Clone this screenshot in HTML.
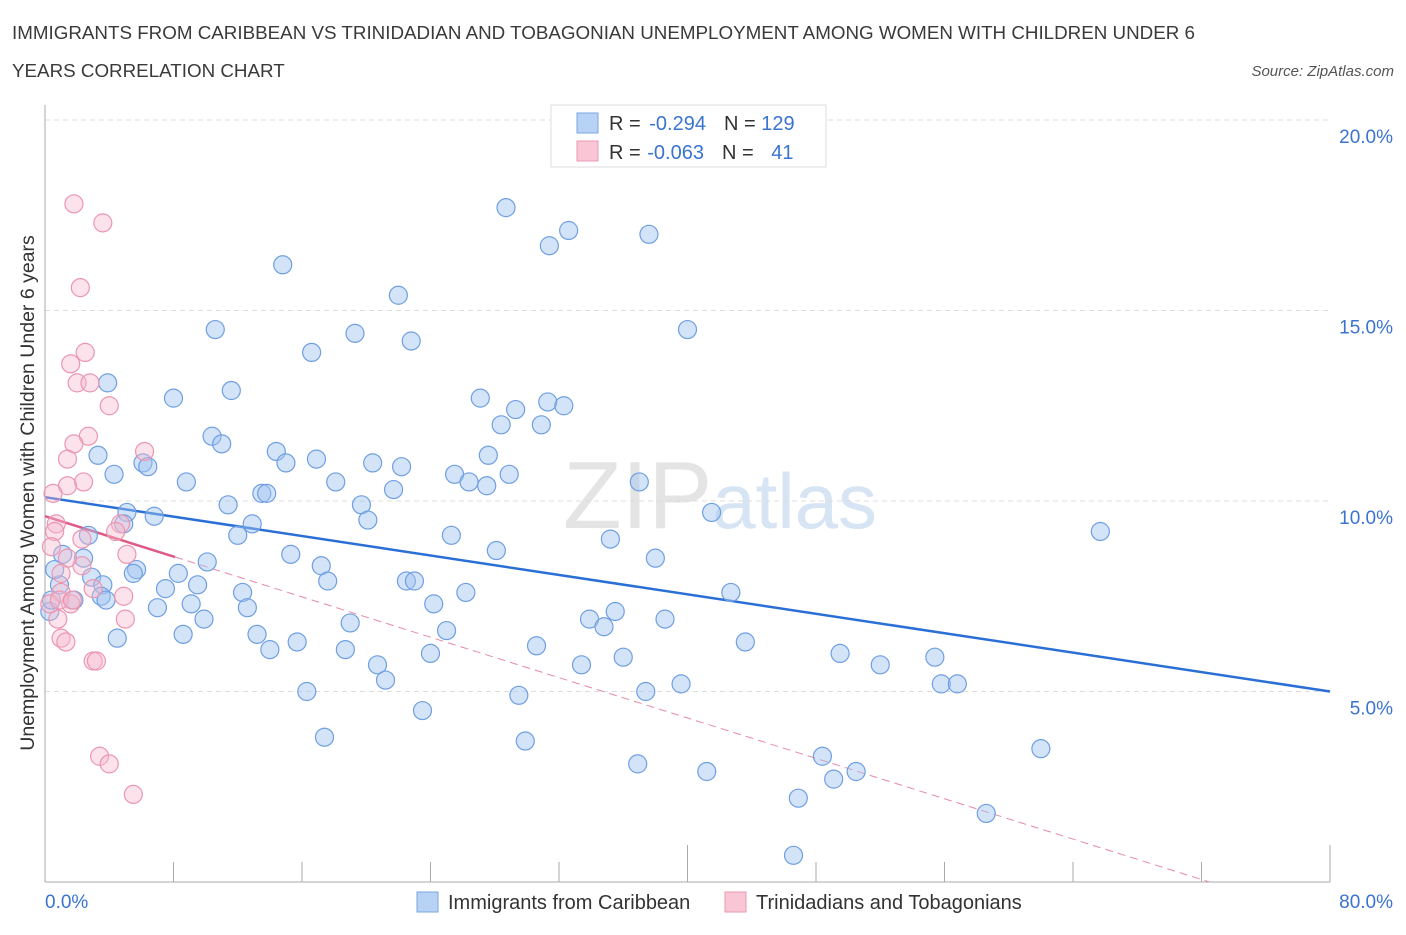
<!DOCTYPE html>
<html><head><meta charset="utf-8"><style>
body{margin:0;background:#fff;font-family:"Liberation Sans",sans-serif;}
svg text{font-family:"Liberation Sans",sans-serif;}
</style></head><body>
<svg id="chart" width="1406" height="930" xmlns="http://www.w3.org/2000/svg">
<text x="12" y="39" font-size="18.8" fill="#3a3a3a">IMMIGRANTS FROM CARIBBEAN VS TRINIDADIAN AND TOBAGONIAN UNEMPLOYMENT AMONG WOMEN WITH CHILDREN UNDER 6</text>
<text x="12" y="77" font-size="18.8" fill="#3a3a3a">YEARS CORRELATION CHART</text>
<text x="1394" y="76" font-size="15" font-style="italic" fill="#555" text-anchor="end">Source: ZipAtlas.com</text>
<text x="720" y="528" font-size="96" font-family="Liberation Serif" fill="#e4e4e4" text-anchor="middle">ZIP<tspan fill="#d6e4f4" font-family="Liberation Sans" font-size="78">atlas</tspan></text>
<g id="grid"></g>
<g id="axes"></g>
<g id="lines"></g>
<g id="points"></g>
<text transform="translate(34,493) rotate(-90)" font-size="19.5" fill="#333" text-anchor="middle">Unemployment Among Women with Children Under 6 years</text>
<g>
<rect x="551" y="105" width="275" height="62" fill="#fff" stroke="#ddd"/>
<rect x="577" y="113" width="21" height="20" fill="#b8d2f5" stroke="#7aa5e3"/>
<rect x="577" y="141" width="21" height="20" fill="#f9c6d6" stroke="#e99ab2"/>
<text x="609" y="130" font-size="20" fill="#333">R = <tspan fill="#3a74d0" dx="3">-0.294</tspan><tspan fill="#333" dx="18">N = </tspan><tspan fill="#3a74d0">129</tspan></text>
<text x="609" y="159" font-size="20" fill="#333">R = <tspan fill="#3a74d0" dx="1">-0.063</tspan><tspan fill="#333" dx="18">N = </tspan><tspan fill="#3a74d0" dx="12">41</tspan></text>
</g>
<g>
<rect x="417" y="892" width="21" height="20" fill="#b8d2f5" stroke="#7aa5e3"/>
<text x="448" y="909" font-size="20" fill="#333">Immigrants from Caribbean</text>
<rect x="725" y="892" width="21" height="20" fill="#f9c6d6" stroke="#e99ab2"/>
<text x="756" y="909" font-size="20" fill="#333">Trinidadians and Tobagonians</text>
</g>
</svg>
<script>
const yTicks=[5,10,15,20];
const yTickLabels=["5.0%","10.0%","15.0%","20.0%"];
const xTicks=[0,8,16,24,32,40,48,56,64,72,80];
const blueX=[28.7,32.6,31.4,37.6,14.8,22.0,40.0,10.6,19.3,22.8,16.6,3.9,11.6,8.0,27.1,31.3,32.3,29.3,28.4,30.9,10.4,11.0,3.3,14.4,16.9,27.6,6.1,6.4,15.0,20.4,22.2,4.3,25.5,28.9,8.8,18.1,26.4,27.5,37.0,13.5,13.8,21.7,11.4,19.7,5.1,6.8,41.5,4.9,20.1,12.9,65.7,12.0,25.3,2.7,35.2,28.1,1.1,2.4,15.3,38.0,10.1,17.2,5.7,5.5,8.3,2.9,17.6,22.5,23.0,0.9,3.6,9.5,7.5,12.3,26.2,42.7,3.5,1.8,3.8,9.1,24.2,7.0,12.6,35.5,33.9,38.6,9.9,19.0,34.8,8.6,25.0,13.2,4.5,43.6,15.7,30.6,14.0,18.7,24.0,49.5,36.0,55.4,20.7,33.4,52.0,21.2,55.8,56.8,39.6,37.4,16.3,29.5,23.5,17.4,29.9,62.0,48.4,36.9,41.2,50.5,49.1,46.9,58.6,46.6,0.3,0.4,0.6];
const blueY=[17.7,17.1,16.7,17.0,16.2,15.4,14.5,14.5,14.4,14.2,13.9,13.1,12.9,12.7,12.7,12.6,12.5,12.4,12.0,12.0,11.7,11.5,11.2,11.3,11.1,11.2,11.0,10.9,11.0,11.0,10.9,10.7,10.7,10.7,10.5,10.5,10.5,10.4,10.5,10.2,10.2,10.3,9.9,9.9,9.7,9.6,9.7,9.4,9.5,9.4,9.2,9.1,9.1,9.1,9.0,8.7,8.6,8.5,8.6,8.5,8.4,8.3,8.2,8.1,8.1,8.0,7.9,7.9,7.9,7.8,7.8,7.8,7.7,7.6,7.6,7.6,7.5,7.4,7.4,7.3,7.3,7.2,7.2,7.1,6.9,6.9,6.9,6.8,6.7,6.5,6.6,6.5,6.4,6.3,6.3,6.2,6.1,6.1,6.0,6.0,5.9,5.9,5.7,5.7,5.7,5.3,5.2,5.2,5.2,5.0,5.0,4.9,4.5,3.8,3.7,3.5,3.3,3.1,2.9,2.9,2.7,2.2,1.8,0.7,7.1,7.4,8.2];
const pinkX=[1.8,3.6,2.2,2.5,1.6,2.0,2.8,4.0,2.7,1.8,6.2,1.4,2.4,1.4,0.5,0.7,0.6,4.7,4.4,2.3,0.4,5.1,2.3,1.4,1.0,4.9,3.0,1.6,0.8,5.0,1.0,1.3,3.0,3.2,3.4,4.0,5.5,0.3,0.9,1.7,1.0];
const pinkY=[17.8,17.3,15.6,13.9,13.6,13.1,13.1,12.5,11.7,11.5,11.3,11.1,10.5,10.4,10.2,9.4,9.2,9.4,9.2,9.0,8.8,8.6,8.3,8.5,7.6,7.5,7.7,7.3,6.9,6.9,6.4,6.3,5.8,5.8,3.3,3.1,2.3,7.3,7.4,7.4,8.1];
const blueTrend=[[0,10.1],[80,5.0]];
const pinkSolid=[[0,9.6],[8.1,8.53]];
const pinkDash=[[8.1,8.53],[72.5,0]];

const NS="http://www.w3.org/2000/svg";
const X=v=>45+v/80*1285;
const Y=v=>882-v/5*190.5;
function mk(tag,attrs,parent){const e=document.createElementNS(NS,tag);for(const k in attrs)e.setAttribute(k,attrs[k]);document.getElementById(parent).appendChild(e);return e;}
yTicks.forEach((t,i)=>{
  const g=mk('line',{x1:45,x2:1330,y1:Y(t),y2:Y(t),stroke:'#ddd','stroke-dasharray':'5,4'},'grid');
  
  
  const l=mk('text',{x:1393,y:Y(t)+23,'font-size':19,fill:'#3a74d0','text-anchor':'end'},'axes');
  l.textContent=yTickLabels[i];
  
  
});
const ax=mk('line',{x1:45,x2:45,y1:105,y2:882,stroke:'#aaa'},'axes');


const bx=mk('line',{x1:45,x2:1330,y1:882,y2:882,stroke:'#aaa'},'axes');


xTicks.forEach(t=>{
  const tk=mk('line',{x1:X(t),x2:X(t),y1:(t===40||t===80)?845:862,y2:882,stroke:'#aaa'},'axes');
  
  
});
const xl0=mk('text',{x:45,y:908,'font-size':19,fill:'#3a74d0'},'axes');xl0.textContent='0.0%';


const xl1=mk('text',{x:1393,y:908,'font-size':19,fill:'#3a74d0','text-anchor':'end'},'axes');xl1.textContent='80.0%';


blueX.forEach((x,i)=>{
  const c=mk('circle',{cx:X(x),cy:Y(blueY[i]),r:9,fill:'rgba(160,195,240,0.45)',stroke:'#6f9fe2','stroke-width':1.2},'points');
  
  
});
pinkX.forEach((x,i)=>{
  const c=mk('circle',{cx:X(x),cy:Y(pinkY[i]),r:9,fill:'rgba(248,185,205,0.4)',stroke:'#eb96b0','stroke-width':1.2},'points');
  
  
});
const bl=mk('line',{x1:X(blueTrend[0][0]),y1:Y(blueTrend[0][1]),x2:X(blueTrend[1][0]),y2:Y(blueTrend[1][1]),stroke:'#2a6fd6','stroke-width':2.5},'lines');


const pl=mk('line',{x1:X(pinkSolid[0][0]),y1:Y(pinkSolid[0][1]),x2:X(pinkSolid[1][0]),y2:Y(pinkSolid[1][1]),stroke:'#e05a86','stroke-width':2.5},'lines');


const pd=mk('line',{x1:X(pinkDash[0][0]),y1:Y(pinkDash[0][1]),x2:X(pinkDash[1][0]),y2:Y(pinkDash[1][1]),stroke:'#e88aa8','stroke-width':1,'stroke-dasharray':'8,5'},'lines');


</script>
</body></html>
